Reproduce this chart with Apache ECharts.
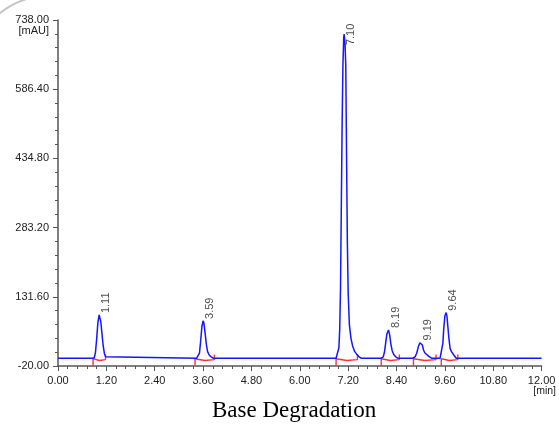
<!DOCTYPE html>
<html>
<head>
<meta charset="utf-8">
<script src="https://cdn.jsdelivr.net/npm/echarts@6/dist/echarts.min.js"></script>
<style>
html,body{margin:0;padding:0;background:#fff;}
#c{width:559px;height:429px;}
</style>
</head>
<body>
<div id="c"></div>
<script>
// ---- data ----
const traceTime = [
  0,
  0.85,0.90,0.93,0.96,0.99,1.02,1.04,1.06,1.09,1.12,1.15,1.18,1.21,
  3.44,3.48,3.51,3.54,3.57,3.60,3.62,3.65,3.68,3.71,3.75,3.80,3.86,
  6.90,6.94,6.97,6.99,7.01,7.03,7.05,7.07,7.09,7.10,7.12,7.14,7.16,7.18,7.20,7.23,7.27,7.31,7.36,7.41,7.47,7.52,
  8.02,8.07,8.10,8.13,8.16,8.20,8.23,8.26,8.29,8.33,8.38,8.43,
  8.80,8.86,8.90,8.94,8.98,9.01,9.04,9.07,9.10,9.14,9.20,9.27,
  9.48,9.52,9.55,9.57,9.60,9.63,9.65,9.67,9.70,9.73,9.76,9.79,9.83,9.88,
  12
];
const traceSignal = [
  -3,
  -3,-2,10,40,75,92,90,78,52,25,8,0,-3,
  -3,-2,8,35,66,79,74,52,28,12,4,0,-3,
  -3,0,20,60,150,330,510,640,700,707,690,640,440,250,140,70,40,24,12,6,0,-3,
  -3,0,10,30,50,59,48,28,14,5,0,-3,
  -3,0,8,22,31,32,26,15,9,5,1,-3,
  -3,0,30,60,90,97,90,70,40,18,12,10,3,-3,
  -3
];
const peakTimes  = [1.02, 3.60, 7.10, 8.20, 9.01, 9.63];
const peakHeights = [92, 79, 707, 59, 32, 97];
const peakLabels = ['1.11', '3.59', '7.10', '8.19', '9.19', '9.64'];
const intStart = [0.87, 3.40, 6.90, 8.02, 8.82, 9.51];
const intEnd   = [1.18, 3.88, 7.43, 8.47, 9.38, 9.92];
const xTicks = { min: 0, max: 12, interval: 1.2 };
const yTicks = { min: -20, max: 738, interval: 151.6 };
const xUnit = '[min]';
const yUnit = '[mAU]';
const chartTitle = 'Base Degradation';

// ---- build ----
const trace = traceTime.map((t, i) => [t, traceSignal[i]]);
const redSeries = intStart.map((s, i) => {
  const e = intEnd[i];
  const m = (s + e) / 2;
  return {
    type: 'line', silent: true, symbol: 'none', z: 3,
    lineStyle: { color: '#ff3030', width: 1.4 },
    data: [[s, -19], [s, -4], [s, -8], [m, -8], [m, -6], [e, -6], [e, 5]]
  };
});
const labelData = peakTimes.map((t, i) => ({
  value: [t, Math.min(peakHeights[i] + 4, yTicks.max - 55)],
  name: peakLabels[i]
}));

const SANS = 'Liberation Sans, Arial, sans-serif';
const axisFont = { fontFamily: SANS, fontSize: 11, color: '#222' };
const fmt = v => (Math.round(v * 100) / 100).toFixed(2);

const chart = echarts.init(document.getElementById('c'), null, { renderer: 'canvas' });
chart.setOption({
  animation: false,
  backgroundColor: '#fff',
  title: {
    text: chartTitle, left: 212, top: 399, padding: 0,
    textStyle: { fontFamily: 'Liberation Serif, Times New Roman, serif', fontSize: 23, fontWeight: 'normal', color: '#000' }
  },
  graphic: [{
    type: 'arc', silent: true, z: 10,
    shape: { cx: 50, cy: 75, r: 79.5, startAngle: 3.9, endAngle: 4.5 },
    style: { stroke: '#c4c4c4', lineWidth: 2, fill: null }
  }],
  grid: { left: 58, right: 17, top: 20, bottom: 63, containLabel: false },
  xAxis: {
    type: 'value', min: xTicks.min, max: xTicks.max, interval: xTicks.interval,
    axisLine: { show: true, onZero: false, lineStyle: { color: '#555', width: 1.5 } },
    axisTick: { show: true, length: 5, lineStyle: { color: '#555', width: 1 } },
    minorTick: { show: true, splitNumber: 5, length: 3, lineStyle: { color: '#555', width: 1 } },
    splitLine: { show: false },
    axisLabel: Object.assign({}, axisFont, {
      margin: 9,
      formatter: v => Math.abs(v - xTicks.max) < 1e-6 ? fmt(v) + '\n{u|' + xUnit + '}' : fmt(v),
      rich: { u: { fontFamily: SANS, fontSize: 10.5, color: '#222', lineHeight: 11, padding: [0, 0, 0, 6] } }
    })
  },
  yAxis: {
    type: 'value', min: yTicks.min, max: yTicks.max, interval: yTicks.interval,
    axisLine: { show: true, onZero: false, lineStyle: { color: '#555', width: 1.5 } },
    axisTick: { show: true, length: 5, lineStyle: { color: '#555', width: 1 } },
    minorTick: { show: true, splitNumber: 5, length: 3, lineStyle: { color: '#555', width: 1 } },
    splitLine: { show: false },
    axisLabel: Object.assign({}, axisFont, {
      margin: 9,
      formatter: v => Math.abs(v - yTicks.max) < 1e-6
        ? '{u| }\n{a|' + fmt(v) + '}\n{u|' + yUnit + '}'
        : fmt(v),
      rich: {
        a: { fontFamily: SANS, fontSize: 11, color: '#222', lineHeight: 11 },
        u: { fontFamily: SANS, fontSize: 11, color: '#222', lineHeight: 10 }
      }
    })
  },
  series: [
    {
      type: 'line', silent: true, symbol: 'none', z: 4,
      lineStyle: { color: '#1515ff', width: 1.5 },
      data: trace
    }
  ].concat(redSeries).concat([
    {
      type: 'scatter', silent: true, symbolSize: 0, z: 5,
      data: labelData,
      label: {
        show: true, formatter: p => p.name, rotate: 90,
        position: [7, 0], align: 'left', verticalAlign: 'middle',
        fontFamily: SANS, fontSize: 11, color: '#222'
      }
    }
  ])
});
</script>
</body>
</html>
